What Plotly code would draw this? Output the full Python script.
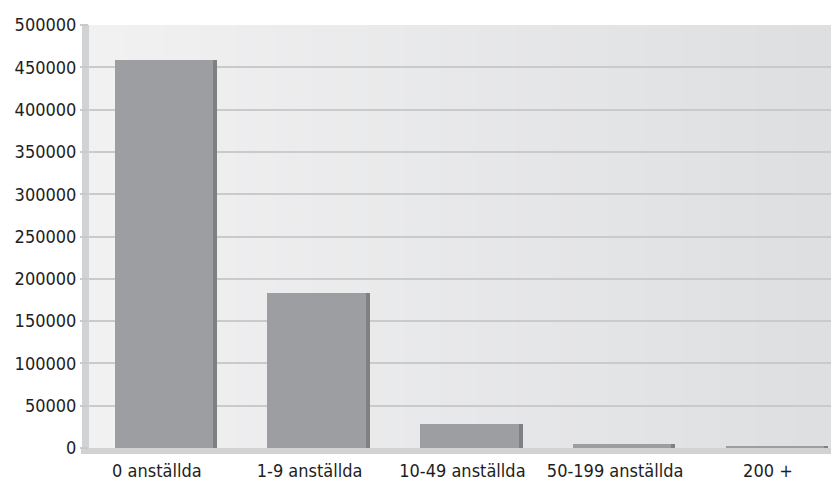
import plotly.graph_objects as go

categories = ["0 anställda", "1-9 anställda", "10-49 anställda", "50-199 anställda", "200 +"]
values = [459000, 183000, 28700, 4800, 1600]
y_ticks = [0, 50000, 100000, 150000, 200000, 250000, 300000, 350000, 400000, 450000, 500000]

BAR = "#9c9ea2"
SHADOW = "#7e8084"
GRID = "#c9cacc"
FONT = "DejaVu Sans Condensed, Liberation Sans, Arial, sans-serif"

fig = go.Figure()

fig.add_trace(go.Bar(x=categories, y=values, marker=dict(color=SHADOW, line=dict(width=0)),
                     width=0.645, offset=-0.3225 + 0.026, hoverinfo="skip", showlegend=False))
fig.add_trace(go.Bar(x=categories, y=values, marker=dict(color=BAR, line=dict(width=0)),
                     width=0.645, offset=-0.3225, showlegend=False))

# plot background gradient (left light -> right darker)
shapes = []
n = 40
c0 = (241, 241, 242)
c1 = (222, 223, 225)
for i in range(n):
    t = i / (n - 1)
    c = tuple(round(c0[k] + (c1[k] - c0[k]) * t) for k in range(3))
    shapes.append(dict(type="rect", xref="paper", yref="paper", x0=i / n, x1=(i + 1) / n + 0.002,
                       y0=0, y1=1, fillcolor="rgb(%d,%d,%d)" % c, line=dict(width=0), layer="below"))
# left wall
shapes.append(dict(type="rect", xref="paper", yref="paper", x0=-7 / 742, x1=0, y0=0, y1=1,
                   fillcolor="#d1d2d4", line=dict(width=0), layer="below"))
# floor
shapes.append(dict(type="rect", xref="paper", yref="paper", x0=-8 / 742, x1=1, y0=-6 / 423, y1=0,
                   fillcolor="#d1d2d4", line=dict(width=0), layer="below"))

fig.update_layout(
    width=831, height=486,
    margin=dict(l=89, r=0, t=25, b=38),
    paper_bgcolor="white",
    plot_bgcolor="#e9eaeb",
    barmode="overlay",
    bargap=0,
    shapes=shapes,
    font=dict(family=FONT, size=18, color="#1e1e1e"),
    xaxis=dict(type="category", range=[-0.49, 4.367], showgrid=False, zeroline=False,
               showline=False, ticks="", tickfont=dict(size=18), ticklabelshift=-7,
               ticklabelstandoff=10),
    yaxis=dict(range=[0, 500000], tickvals=y_ticks, ticktext=[str(v) for v in y_ticks],
               showgrid=True, gridcolor=GRID, gridwidth=2, zeroline=False, showline=False,
               ticks="outside", ticklen=8, tickcolor=GRID, tickwidth=2,
               tickfont=dict(size=18)),
)

fig.write_html("out.html")
